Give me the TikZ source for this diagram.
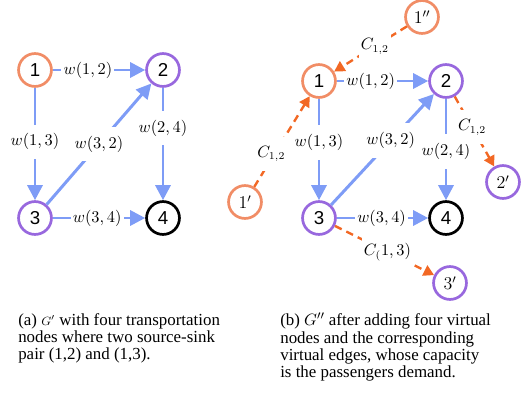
\documentclass[tikz,border=0pt]{standalone}
\usepackage[no-math]{fontspec}
\setmainfont{Liberation Serif}
\newfontfamily\nodefont{Liberation Sans}
\usepackage{amsmath}
\usepackage{xcolor}
\usetikzlibrary{arrows.meta}

\definecolor{srcorange}{RGB}{241,141,102}
\definecolor{sinkpurple}{RGB}{152,104,222}
\definecolor{edgeblue}{RGB}{126,156,246}
\definecolor{virtorange}{RGB}{242,104,36}

\begin{document}
\begin{tikzpicture}[x=0.0235cm, y=-0.0235cm,
    tnode/.style={draw, circle, line width=1.8pt, minimum size=22pt, inner sep=0pt, fill=white, text=black},
    src/.style={tnode, draw=srcorange, font=\nodefont\fontsize{12.5}{12.5}\selectfont},
    sink/.style={tnode, draw=sinkpurple, font=\nodefont\fontsize{12.5}{12.5}\selectfont},
    plain/.style={tnode, draw=black, font=\nodefont\fontsize{12.5}{12.5}\selectfont},
    vsrc/.style={tnode, draw=srcorange, font=\fontsize{12}{12}\selectfont},
    vsink/.style={tnode, draw=sinkpurple, font=\fontsize{12}{12}\selectfont},
    wedge/.style={-{Triangle[length=10pt,width=10pt]}, line width=2pt, edgeblue},
    vedge/.style={-{Triangle[length=7pt,width=7.5pt]}, line width=1.6pt, virtorange, dash pattern=on 5pt off 3.5pt},
    wlabel/.style={fill=white, inner xsep=1.5pt, inner ysep=6pt, text=black, font=\fontsize{10.5}{10.5}\selectfont},
    caption/.style={anchor=north west, align=left, inner sep=0pt, font=\rmfamily\fontsize{11.3}{11.5}\selectfont}]
  \useasboundingbox (0,0) rectangle (526,394);

  % (a) transportation nodes
  \node[src] (a1) at (35,70) {1};
  \node[sink] (a2) at (163,70) {2};
  \node[sink] (a3) at (35,218) {3};
  \node[plain] (a4) at (163,218) {4};

  % (a) edges
  \draw[wedge] (a1) -- node[wlabel, pos=0.38] {$w(1,2)$} (a2);
  \draw[wedge] (a1) -- node[wlabel, pos=0.48] {$w(1,3)$} (a3);
  \draw[wedge] (a3) -- node[wlabel, midway] {$w(3,2)$} (a2);
  \draw[wedge] (a2) -- node[wlabel, pos=0.36] {$w(2,4)$} (a4);
  \draw[wedge] (a3) -- node[wlabel, pos=0.48] {$w(3,4)$} (a4);

  % (b) transportation nodes
  \node[src] (b1) at (319,81) {1};
  \node[sink] (b2) at (446,81) {2};
  \node[sink] (b3) at (319,218) {3};
  \node[plain] (b4) at (446,218) {4};

  % (b) virtual nodes
  \node[vsrc] (v1a) at (422,17) {$1''$};
  \node[vsrc] (v1b) at (245,202) {$1'$};
  \node[vsink] (v2) at (503,182) {$2'$};
  \node[vsink] (v3) at (450,283) {$3'$};

  % (b) edges
  \draw[wedge] (b1) -- node[wlabel, pos=0.37] {$w(1,2)$} (b2);
  \draw[wedge] (b1) -- node[wlabel, pos=0.43] {$w(1,3)$} (b3);
  \draw[wedge] (b3) -- node[wlabel, pos=0.58] {$w(3,2)$} (b2);
  \draw[wedge] (b2) -- node[wlabel, pos=0.52] {$w(2,4)$} (b4);
  \draw[wedge] (b3) -- node[wlabel, pos=0.49] {$w(3,4)$} (b4);

  % (b) virtual edges
  \draw[vedge] (v1a) -- node[wlabel, pos=0.44] {$C_{1,2}$} (b1);
  \draw[vedge] (v1b) -- node[wlabel, pos=0.36, xshift=-2pt] {$C_{1,2}$} (b1);
  \draw[vedge] (b2) -- node[wlabel, pos=0.44] {$C_{1,2}$} (v2);
  \draw[vedge] (b3) -- node[wlabel, pos=0.53] {$C_(1,3)$} (v3);

  % captions
  \node[caption] (capa) at (18,313) {(a) {\footnotesize$G'$} with four transportation\\nodes where two source-sink\\pair (1,2) and (1,3).};
  \node[caption] (capb) at (280,313) {(b) $G''$ after adding four virtual\\nodes and the corresponding\\virtual edges, whose capacity\\is the passengers demand.};
\end{tikzpicture}
\end{document}
